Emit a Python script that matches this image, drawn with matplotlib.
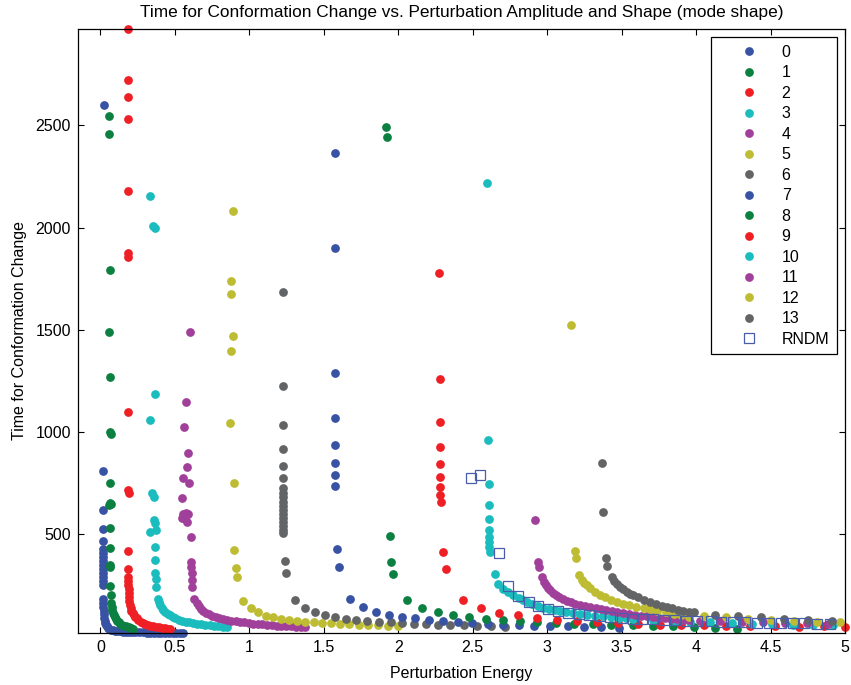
import matplotlib
matplotlib.use("Agg")
import matplotlib.pyplot as plt

plt.rcParams['font.family'] = ['Liberation Sans', 'DejaVu Sans']

# mode 0 .. 13 : perturbation energy (e) and time for conformation change (t)
e0 = [0.022, 0.018, 0.015, 0.019, 0.019, 0.018, 0.018, 0.018, 0.018, 0.019, 0.019, 0.019, 0.019, 0.020, 0.020,
      0.020, 0.020, 0.021, 0.022, 0.023, 0.025, 0.028, 0.032, 0.037, 0.043, 0.05, 0.06, 0.072, 0.085, 0.1, 0.115,
      0.13, 0.15, 0.17, 0.19, 0.21, 0.235, 0.26, 0.285, 0.31, 0.335, 0.36, 0.385, 0.41, 0.435, 0.46, 0.485, 0.51,
      0.535, 0.557]
t0 = [2598, 812, 618, 528, 467, 430, 410, 390, 370, 350, 330, 310, 290, 270, 250,
      185, 165, 145, 125, 108, 92, 78, 66, 57, 49, 42, 37, 33, 30, 28, 26,
      25, 24, 23, 22, 21, 21, 20, 20, 19, 19, 19, 18, 18, 18, 18, 18, 18,
      18, 18]

e1 = [0.056, 0.056, 0.063, 0.060, 0.063, 0.063, 0.072, 0.065, 0.063, 0.070, 0.060, 0.065, 0.066, 0.067, 0.068,
      0.068, 0.069, 0.072, 0.075, 0.079, 0.084, 0.09, 0.097, 0.105, 0.114, 0.124, 0.135, 0.147, 0.16, 0.175, 0.19,
      0.205, 0.221]
t1 = [2546, 2459, 1794, 1492, 1268, 998, 990, 752, 653, 648, 642, 529, 435, 348, 338,
      245, 201, 165, 146, 130, 116, 104, 93, 84, 76, 69, 63, 58, 53, 49, 45,
      42, 39]

e2 = [0.183, 0.183, 0.183, 0.183, 0.183, 0.185, 0.185, 0.186, 0.186, 0.190, 0.186, 0.188, 0.188, 0.188, 0.189,
      0.190, 0.190, 0.191, 0.194, 0.198, 0.203, 0.209, 0.216, 0.224, 0.233, 0.244, 0.256, 0.27, 0.285, 0.3,
      0.318, 0.336, 0.355, 0.375, 0.395, 0.415, 0.435, 0.455, 0.47]
t2 = [2972, 2722, 2639, 2534, 2181, 1876, 1856, 1097, 719, 700, 417, 332, 291, 270, 250,
      230, 211, 192, 172, 155, 140, 127, 116, 106, 97, 88, 80, 73, 67, 62,
      57, 53, 50, 47, 44, 42, 40, 39, 38]

e3 = [0.336, 0.354, 0.369, 0.365, 0.336, 0.345, 0.362, 0.360, 0.370, 0.336, 0.374, 0.365, 0.368, 0.370, 0.373,
      0.376, 0.385, 0.393, 0.402, 0.412, 0.424, 0.437, 0.452, 0.468, 0.485, 0.504, 0.525, 0.548, 0.572, 0.597,
      0.623, 0.65, 0.678, 0.706, 0.735, 0.764, 0.793, 0.822, 0.85]
t3 = [2157, 2010, 1997, 1186, 1059, 700, 683, 569, 554, 511, 520, 438, 372, 310, 279,
      242, 185, 167, 153, 141, 130, 120, 111, 103, 96, 89, 83, 78, 73, 69,
      65, 62, 59, 56, 54, 52, 50, 48, 46]

e4 = [0.604, 0.577, 0.564, 0.586, 0.580, 0.552, 0.597, 0.550, 0.553, 0.565, 0.575, 0.590, 0.550, 0.570, 0.580,
      0.606, 0.610, 0.612, 0.613, 0.615, 0.617, 0.63, 0.646, 0.66, 0.675, 0.692, 0.71, 0.73, 0.752, 0.776,
      0.80, 0.826, 0.853, 0.88, 0.908, 0.937, 0.966, 0.996, 1.026, 1.057, 1.088, 1.12, 1.152, 1.184, 1.216,
      1.248, 1.28, 1.312, 1.344, 1.376]
t4 = [1489, 1147, 1025, 899, 827, 775, 753, 676, 600, 595, 605, 600, 580, 575, 560,
      487, 364, 340, 309, 275, 242, 185, 162, 148, 136, 126, 117, 109, 102, 96,
      91, 86, 82, 78, 75, 72, 69, 66, 63, 61, 59, 57, 55, 53, 51,
      50, 49, 47, 46, 45]

e5 = [0.890, 0.877, 0.879, 0.888, 0.879, 0.870, 0.895, 0.900, 0.911, 0.917, 0.96, 1.01, 1.06, 1.11, 1.16,
      1.21, 1.264, 1.32, 1.377, 1.433, 1.489, 1.547, 1.607, 1.67, 1.735, 1.797, 1.864, 1.931, 1.998]
t5 = [2082, 1740, 1676, 1472, 1397, 1044, 752, 425, 337, 291, 175, 140, 118, 102, 94,
      86, 82, 75, 72, 69, 66, 64, 63, 60, 58, 55, 54, 52, 50]

e6 = [1.224, 1.224, 1.224, 1.224, 1.224, 1.224, 1.224, 1.224, 1.224, 1.224, 1.224, 1.224, 1.224, 1.224, 1.224,
      1.224, 1.224, 1.224, 1.237, 1.248, 1.306, 1.373, 1.44, 1.507, 1.578, 1.647, 1.719, 1.792, 1.87, 1.949,
      2.027, 2.107, 2.187, 2.266, 2.35, 2.44, 2.53, 2.625, 2.72]
t6 = [1685, 1227, 1033, 917, 835, 775, 727, 700, 680, 660, 640, 620, 600, 580, 560,
      540, 520, 505, 371, 312, 177, 140, 118, 104, 94, 86, 79, 74, 71, 69,
      66, 63, 60, 58, 56, 54, 52, 50, 48]

e7 = [1.577, 1.577, 1.577, 1.577, 1.577, 1.577, 1.577, 1.577, 1.588, 1.600, 1.678, 1.765, 1.848, 1.936, 2.025,
      2.115, 2.205, 2.302, 2.4, 2.498, 2.6, 2.705, 2.808, 2.913, 3.02, 3.137, 3.249, 3.364, 3.485]
t7 = [2363, 1902, 1291, 1067, 938, 851, 788, 737, 428, 340, 183, 143, 120, 106, 96,
      88, 82, 77, 73, 66, 63, 58, 55, 53, 51, 50, 48, 45, 42]

e8 = [1.920, 1.924, 1.942, 1.953, 1.964, 2.06, 2.16, 2.265, 2.371, 2.478, 2.59, 2.705, 2.817, 2.935, 3.058,
      3.18, 3.305, 3.43, 3.575, 3.709, 3.848, 3.985, 4.128, 4.273]
t8 = [2492, 2443, 490, 366, 307, 177, 140, 118, 107, 96, 86, 79, 74, 71, 66,
      63, 60, 58, 54, 50, 50, 47, 42, 39]

e9 = [2.277, 2.282, 2.282, 2.282, 2.282, 2.282, 2.282, 2.282, 2.285, 2.304, 2.320, 2.434, 2.555, 2.678, 2.803,
      2.93, 3.065, 3.199, 3.334, 3.474, 3.612, 3.76, 3.9, 4.05, 4.2, 4.36, 4.53, 4.69, 4.86, 5.0]
t9 = [1779, 1258, 1049, 925, 842, 781, 732, 691, 658, 412, 332, 180, 141, 116, 103,
      92, 83, 75, 70, 65, 60, 58, 58, 58, 53, 50, 50, 47, 50, 44]

e10 = [2.596, 2.606, 2.610, 2.610, 2.610, 2.610, 2.610, 2.612, 2.612, 2.614, 2.651, 2.673, 2.707, 2.74, 2.774,
       2.81, 2.84, 2.864, 2.9, 2.94, 2.975, 3.01, 3.05, 3.087, 3.13, 3.175, 3.22, 3.27, 3.32, 3.378,
       3.43, 3.48, 3.53, 3.579, 3.713, 3.859, 3.96, 4.094, 4.24, 4.374, 4.508, 4.653, 4.787, 4.921]
t10 = [2220, 961, 747, 642, 574, 523, 487, 462, 438, 413, 307, 258, 234, 216, 201,
       189, 177, 168, 158, 149, 141, 135, 129, 124, 119, 115, 111, 106, 102, 98,
       95, 92, 89, 87, 80, 76, 73, 70, 66, 63, 60, 58, 56, 55]

e11 = [2.917, 2.940, 2.946, 2.964, 2.977, 2.99, 3.005, 3.02, 3.04, 3.06, 3.082, 3.106, 3.132, 3.16, 3.19,
       3.22, 3.254, 3.289, 3.325, 3.36, 3.397, 3.433, 3.468, 3.51, 3.55, 3.59, 3.63, 3.67, 3.71, 3.75,
       3.79, 3.83, 3.87, 3.91, 3.95, 4.027, 4.161, 4.306, 4.45, 4.597, 4.743, 4.888]
t11 = [569, 364, 340, 291, 268, 250, 236, 225, 212, 201, 192, 184, 176, 168, 161,
       155, 149, 144, 139, 134, 129, 124, 119, 114, 110, 106, 102, 98, 95, 92,
       89, 86, 84, 82, 80, 78, 75, 71, 70, 66, 65, 62]

e12 = [3.159, 3.186, 3.193, 3.217, 3.235, 3.25, 3.266, 3.29, 3.32, 3.356, 3.39, 3.43, 3.468, 3.51, 3.55,
       3.6, 3.65, 3.69, 3.74, 3.795, 3.85, 3.9, 3.95, 4.05, 4.2, 4.35, 4.505, 4.655, 4.815, 4.967]
t12 = [1525, 418, 386, 299, 278, 263, 250, 235, 220, 205, 193, 180, 168, 160, 152,
       145, 139, 134, 126, 118, 110, 103, 97, 102, 94, 86, 83, 74, 71, 71]

e13 = [3.367, 3.373, 3.396, 3.405, 3.434, 3.45, 3.47, 3.49, 3.51, 3.535, 3.555, 3.579, 3.61, 3.65, 3.69,
       3.73, 3.77, 3.803, 3.84, 3.88, 3.915, 3.95, 3.985, 4.13, 4.28, 4.437, 4.59, 4.75, 4.91]
t13 = [851, 610, 384, 347, 291, 272, 256, 242, 230, 218, 209, 201, 191, 179, 168,
       159, 151, 144, 137, 130, 124, 121, 118, 107, 102, 94, 86, 83, 78]

# random perturbation
e_rndm = [2.49, 2.55, 2.678, 2.74, 2.807, 2.875, 2.942, 3.009, 3.076, 3.143, 3.217, 3.284, 3.356, 3.423, 3.501,
          3.575, 3.639, 3.71, 3.784, 3.858, 3.93, 4.008, 4.097, 4.17, 4.248, 4.327, 4.409, 4.487, 4.572, 4.65,
          4.728, 4.81, 4.9]
t_rndm = [773, 789, 408, 245, 196, 168, 147, 136, 124, 114, 108, 103, 98, 95, 90,
          87, 86, 84, 82, 80, 78, 76, 74, 72, 71, 70, 68, 67, 66, 65,
          64, 63, 62]

labels = [str(i) for i in range(14)]
colors = ["#3953A4", "#0C8040", "#EE2025", "#1BBCBE", "#A1409A", "#BDBC32", "#636466"] * 2

energies = [e0, e1, e2, e3, e4, e5, e6, e7, e8, e9, e10, e11, e12, e13]
times = [t0, t1, t2, t3, t4, t5, t6, t7, t8, t9, t10, t11, t12, t13]

fig = plt.figure(figsize=(8.51, 6.85), dpi=100)
ax = fig.add_axes([78 / 851, 1 - 633 / 685, 767 / 851, 604 / 685])

for x, y, c, lab in zip(energies, times, colors, labels):
    ax.plot(x, y, 'o', color=c, ms=6.3, mec='none', label=lab, clip_on=False)
ax.plot(e_rndm, t_rndm, 's', mfc='none', mec="#4A5DAA", mew=0.9, ms=6.5, label="RNDM", clip_on=False)

ax.set_xlim(-0.15, 5)
ax.set_ylim(17, 2972)
ax.set_xticks([0, 0.5, 1, 1.5, 2, 2.5, 3, 3.5, 4, 4.5, 5])
ax.set_xticklabels(['0', '0.5', '1', '1.5', '2', '2.5', '3', '3.5', '4', '4.5', '5'])
ax.set_yticks([500, 1000, 1500, 2000, 2500])
ax.tick_params(direction='in', top=True, right=True, length=4.5, width=0.8, labelsize=11.5, pad=5)
for s in ax.spines.values():
    s.set_linewidth(0.9)

ax.set_title("Time for Conformation Change vs. Perturbation Amplitude and Shape (mode shape)", fontsize=12.4, pad=9)
ax.set_xlabel("Perturbation Energy", fontsize=11.5, labelpad=8)
ax.set_ylabel("Time for Conformation Change", fontsize=11.5, labelpad=6)

leg = ax.legend(loc='upper right', bbox_to_anchor=(0.989, 0.986), borderaxespad=0, fancybox=False,
                edgecolor='black', framealpha=1, fontsize=11.5, borderpad=0.45, handlelength=3.8,
                handletextpad=0.15, labelspacing=0.345, numpoints=1)
leg.get_frame().set_linewidth(0.9)

plt.savefig("out.png", dpi=100)
